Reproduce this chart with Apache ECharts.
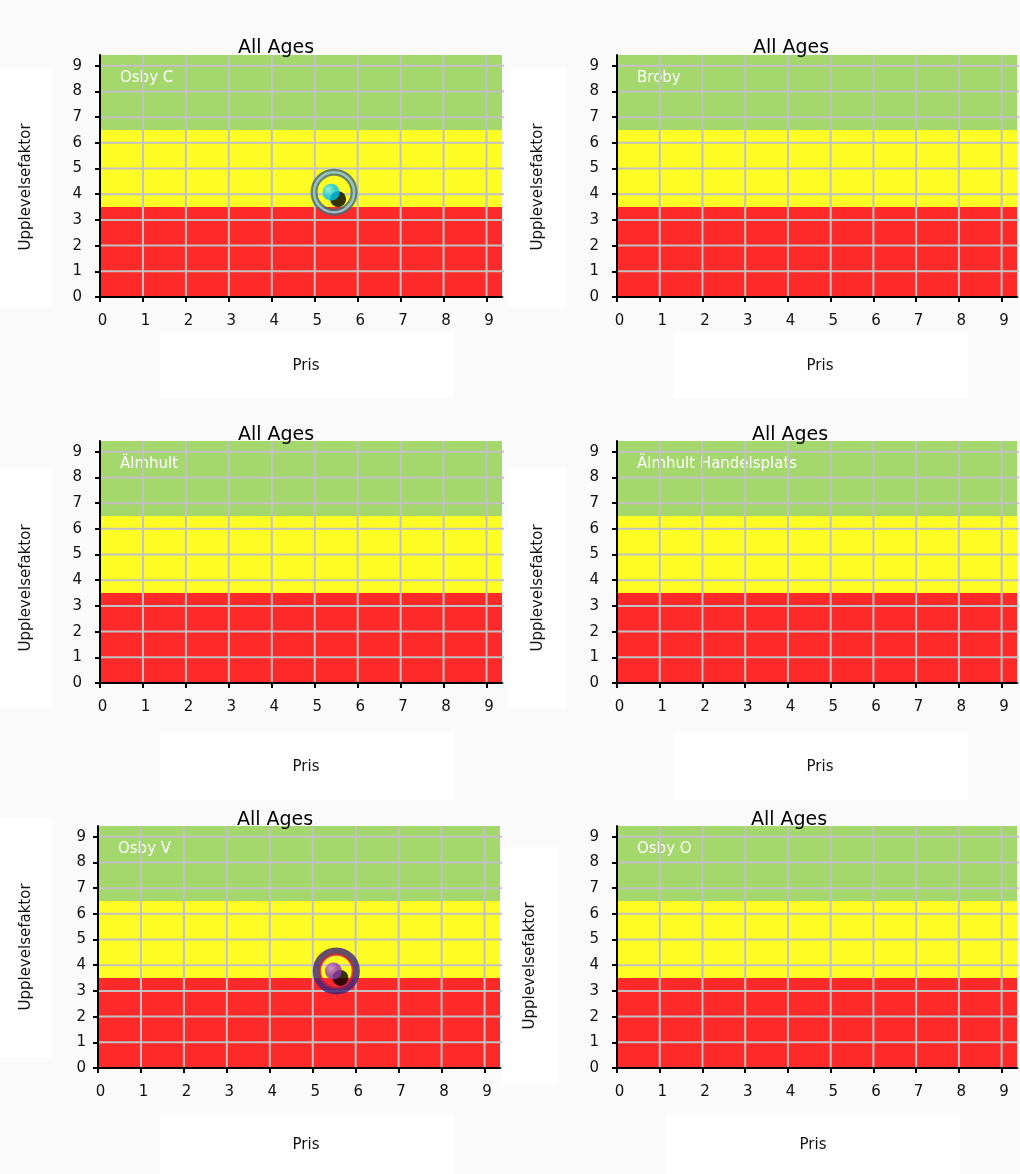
<!DOCTYPE html>
<html>
<head>
<meta charset="utf-8">
<script src="https://cdn.jsdelivr.net/npm/echarts@6/dist/echarts.min.js"></script>
<style>
  html, body { margin: 0; padding: 0; background: #fafafa; }
  #chart { width: 1020px; height: 1174px; }
</style>
</head>
<body>
<div id="chart"></div>
<script>
// ---- data ----
const chartTitle = 'All Ages';
const xAxisName = 'Pris';
const yAxisName = 'Upplevelsefaktor';
const panelNames = ['Osby C', 'Broby', 'Älmhult', 'Älmhult Handelsplats', 'Osby V', 'Osby O'];
const xTicks = [0, 1, 2, 3, 4, 5, 6, 7, 8, 9];
const yTicks = [0, 1, 2, 3, 4, 5, 6, 7, 8, 9];
const xMax = 9.36;
const yMax = 9.42;
// score bands: red below 3.5, yellow up to 6.5, green above
const zoneBreaks = [0, 3.5, 6.5, yMax];
const zoneColors = ['#fe2a2a', '#fdfc24', '#a4d76c'];
// one store per panel (null = no point)
const pointPrice = [5.45, null, null, null, 5.55, null];
const pointScore = [4.08, null, null, null, 3.78, null];

// ---- layout ----
const FONT = 'DejaVu Sans';
const layout = [
  { grid: { left: 100, top: 55, width: 402, height: 242 }, title: [276, 48],
    yBox: [0, 68, 52, 239], yName: [26, 187], xBox: [160, 333, 293, 65], xName: [306, 366], margin: 18 },
  { grid: { left: 617, top: 55, width: 400, height: 242 }, title: [791, 48],
    yBox: [508, 68, 59, 239], yName: [538, 187], xBox: [673, 333, 295, 65], xName: [820, 366], margin: 18 },
  { grid: { left: 100, top: 441, width: 402, height: 242 }, title: [276, 435],
    yBox: [0, 468, 52, 240], yName: [26, 588], xBox: [160, 733, 293, 67], xName: [306, 767], margin: 18 },
  { grid: { left: 617, top: 441, width: 400, height: 242 }, title: [790, 435],
    yBox: [508, 468, 59, 240], yName: [538, 588], xBox: [673, 733, 295, 67], xName: [820, 767], margin: 18 },
  { grid: { left: 98, top: 826, width: 402, height: 242 }, title: [275, 820],
    yBox: [0, 818, 52, 240], yName: [26, 947], xBox: [160, 1113, 293, 61], xName: [306, 1145], margin: 12 },
  { grid: { left: 617, top: 826, width: 400, height: 242 }, title: [789, 820],
    yBox: [501, 847, 57, 238], yName: [530, 966], xBox: [667, 1113, 293, 61], xName: [813, 1145], margin: 18 }
];

// marker look per panel: ring colours, inner ring size and ball colour
const markerLook = {
  0: { ringOuter: '#46666f', ringInner: '#a3d4df', innerSize: 40, ball: ['#7beeff', '#00c4ee'] },
  4: { ringOuter: '#3a2479', ringInner: '#d0203c', innerSize: 33, ball: ['#c77be0', '#8c36b0'] }
};

function makeBackdrop(i) {
  return function (params, api) {
    const children = [];
    for (let k = 0; k < zoneColors.length; k++) {
      const a = api.coord([0, zoneBreaks[k + 1]]);
      const b = api.coord([xMax, zoneBreaks[k]]);
      children.push({ type: 'rect', shape: { x: a[0], y: a[1], width: b[0] - a[0], height: b[1] - a[1] },
        style: { fill: zoneColors[k] } });
    }
    const corner = api.coord([0, yMax]);
    children.push({ type: 'text', x: corner[0] + 20, y: corner[1] + 23,
      style: { text: panelNames[i], fill: '#ffffff', font: '15px "' + FONT + '"', verticalAlign: 'middle' } });
    xTicks.forEach(function (t) {
      const p = api.coord([t, 0]), q = api.coord([t, yMax]);
      children.push({ type: 'line', shape: { x1: p[0], y1: p[1], x2: q[0], y2: q[1] },
        style: { stroke: '#c2c2c2', lineWidth: 2 } });
    });
    yTicks.forEach(function (t) {
      const p = api.coord([0, t]), q = api.coord([xMax, t]);
      children.push({ type: 'line', shape: { x1: p[0], y1: p[1], x2: q[0] + 2, y2: q[1] },
        style: { stroke: '#c2c2c2', lineWidth: 2 } });
    });
    return { type: 'group', children: children };
  };
}

function makeAxis(i, max, ticks, margin, padding) {
  return {
    gridIndex: i, type: 'value', min: 0, max: max, interval: 1, z: 10,
    axisLine: { show: true, onZero: false, lineStyle: { color: '#000', width: 2 } },
    axisTick: { show: true, inside: false, length: 5, customValues: ticks, lineStyle: { color: '#000', width: 2 } },
    splitLine: { show: false },
    axisLabel: { show: true, customValues: ticks, margin: margin, padding: padding,
      color: '#111', fontSize: 15, fontFamily: FONT }
  };
}

const grids = [], xAxes = [], yAxes = [], series = [], graphics = [];

layout.forEach(function (L, i) {
  grids.push(Object.assign({ containLabel: false }, L.grid));
  xAxes.push(makeAxis(i, xMax, xTicks, 17, [0, 0, 0, 5]));
  yAxes.push(makeAxis(i, yMax, yTicks, L.margin, 0));

  series.push({
    type: 'custom', xAxisIndex: i, yAxisIndex: i, z: 1, silent: true,
    data: [[0, 0]], renderItem: makeBackdrop(i)
  });

  if (pointPrice[i] != null) {
    const pt = [[pointPrice[i], pointScore[i]]];
    const look = markerLook[i];
    const base = { type: 'scatter', xAxisIndex: i, yAxisIndex: i, data: pt, silent: true };
    series.push(Object.assign({}, base, {
      z: 20, symbol: 'circle', symbolSize: 40,
      itemStyle: { color: 'rgba(0,0,0,0)', borderColor: look.ringOuter, borderWidth: 7 }
    }));
    series.push(Object.assign({}, base, {
      z: 21, symbol: 'circle', symbolSize: look.innerSize,
      itemStyle: { color: 'rgba(0,0,0,0)', borderColor: look.ringInner, borderWidth: 2.5 }
    }));
    series.push(Object.assign({}, base, {
      z: 22, symbol: 'circle', symbolSize: 16, symbolOffset: [4, 7],
      itemStyle: { color: '#000' }
    }));
    series.push(Object.assign({}, base, {
      z: 23, symbol: 'circle', symbolSize: 17, symbolOffset: [-3, 0],
      itemStyle: {
        color: { type: 'radial', x: 0.35, y: 0.35, r: 0.75,
          colorStops: [{ offset: 0, color: look.ball[0] }, { offset: 0.55, color: look.ball[1] }, { offset: 1, color: look.ball[1] }] }
      }
    }));
  }

  // white panels behind the axis names
  graphics.push({ type: 'rect', z: 0, shape: { x: L.yBox[0], y: L.yBox[1], width: L.yBox[2], height: L.yBox[3] },
    style: { fill: '#ffffff' }, silent: true });
  graphics.push({ type: 'rect', z: 0, shape: { x: L.xBox[0], y: L.xBox[1], width: L.xBox[2], height: L.xBox[3] },
    style: { fill: '#ffffff' }, silent: true });
  graphics.push({ type: 'text', z: 1, x: L.yName[0], y: L.yName[1], rotation: Math.PI / 2,
    style: { text: yAxisName, font: '15px "' + FONT + '"', fill: '#111', align: 'center', verticalAlign: 'middle' } });
  graphics.push({ type: 'text', z: 1, x: L.xName[0], y: L.xName[1],
    style: { text: xAxisName, font: '15px "' + FONT + '"', fill: '#111', align: 'center', verticalAlign: 'middle' } });
  graphics.push({ type: 'text', z: 100, x: L.title[0], y: L.title[1],
    style: { text: chartTitle, font: '19px "' + FONT + '"', fill: '#000', align: 'center', verticalAlign: 'middle' } });
});

const chart = echarts.init(document.getElementById('chart'), null, { renderer: 'canvas' });
chart.setOption({
  backgroundColor: '#fafafa',
  animation: false,
  grid: grids,
  xAxis: xAxes,
  yAxis: yAxes,
  series: series,
  graphic: { elements: graphics }
});
</script>
</body>
</html>
